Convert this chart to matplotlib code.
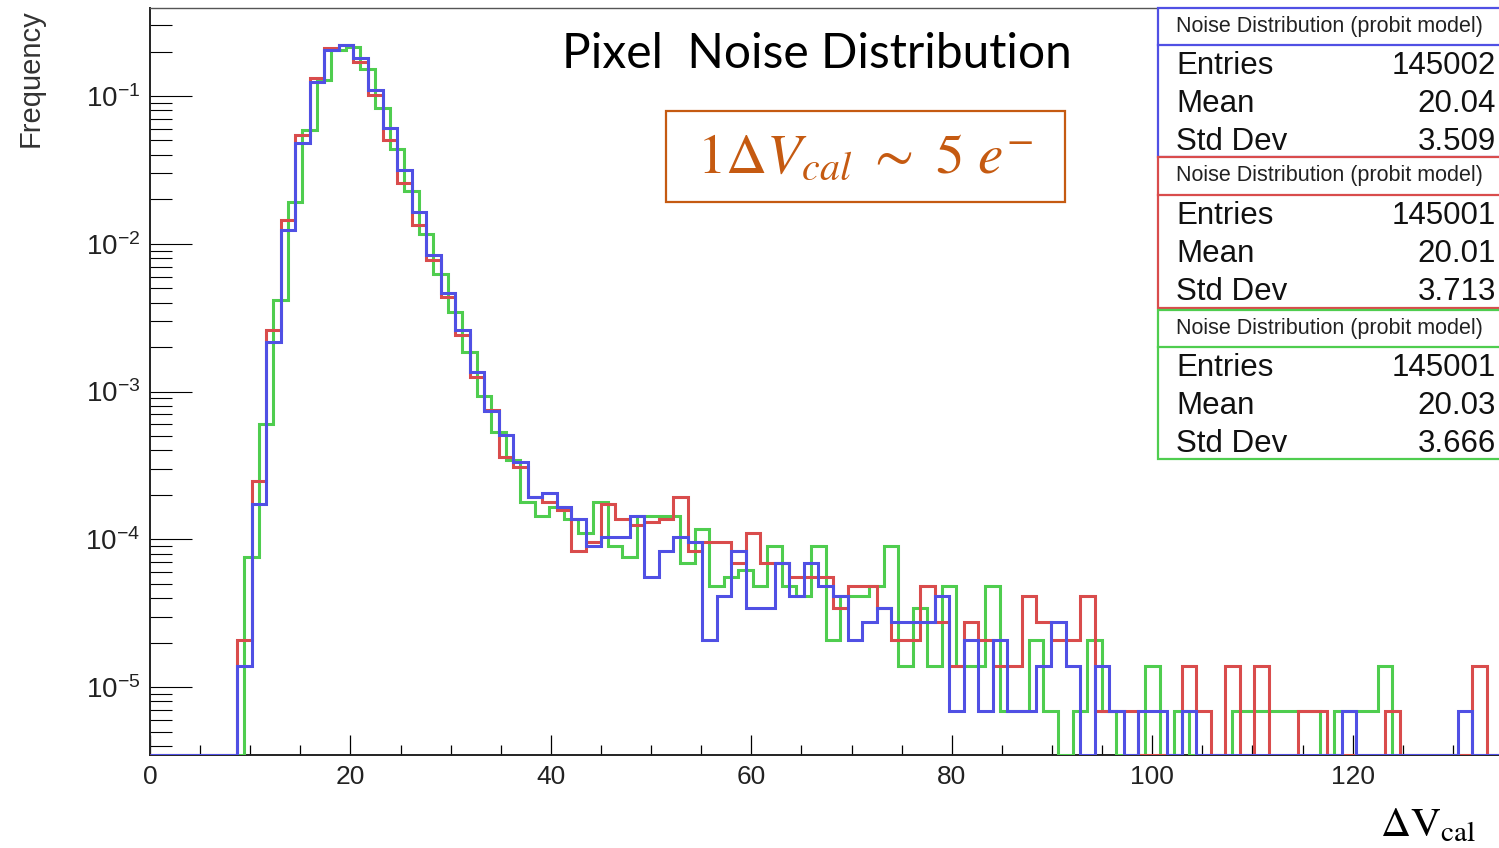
import numpy as np
import matplotlib
matplotlib.use("Agg")
import matplotlib.pyplot as plt
from matplotlib.patches import Rectangle
from matplotlib.ticker import FixedLocator, FuncFormatter, NullFormatter

plt.rcParams['font.family'] = ['Liberation Sans', 'DejaVu Sans']
plt.rcParams['mathtext.fontset'] = 'custom'
plt.rcParams['mathtext.rm'] = 'Liberation Sans'
plt.rcParams['mathtext.it'] = 'Liberation Sans:italic'

# ---------------- data (counts per bin, bin width 1.45) ----------------
entries_blue = 145002
entries_red = 145001
entries_green = 145001
mean_blue, std_blue = "20.04", "3.509"
mean_red, std_red = "20.01", "3.713"
mean_green, std_green = "20.03", "3.666"

counts_blue = [0, 0, 0, 0, 0, 0, 2, 25, 315, 1795,
               6970, 18030, 29650, 32060, 26190, 15920, 8800, 4570, 2375, 1216,
               673, 378, 196, 107, 74, 48, 28, 30, 24, 20,
               13, 15, 15, 21, 8, 12, 15, 14, 3, 6,
               12, 5, 5, 10, 6, 10, 7, 6, 3, 4,
               5, 4, 4, 4, 6, 1, 3, 1, 3, 1,
               1, 2, 4, 2, 0, 2, 1, 0, 1, 1,
               0, 1, 0, 0, 0, 0, 0, 0, 0, 0,
               0, 0, 1, 0, 0, 0, 0, 0, 0, 0,
               1, 0, 0]
counts_red = [0, 0, 0, 0, 0, 0, 3, 36, 378, 2100,
              7890, 19100, 30500, 32060, 24700, 14700, 7300, 3730, 1940, 1125,
              634, 349, 182, 109, 52, 45, 28, 26, 23, 12,
              14, 25, 20, 18, 19, 20, 28, 12, 14, 14,
              10, 16, 10, 10, 8, 8, 8, 5, 7, 7,
              5, 3, 3, 7, 4, 2, 4, 3, 2, 2,
              6, 4, 3, 3, 6, 1, 1, 1, 0, 0,
              0, 2, 1, 0, 2, 0, 2, 0, 0, 1,
              1, 0, 0, 0, 0, 1, 0, 0, 0, 0,
              0, 2, 0]
counts_green = [0, 0, 0, 0, 0, 0, 11, 88, 603, 2790,
                8530, 18600, 29500, 31000, 22000, 12000, 6300, 3300, 1700, 900,
                500, 270, 135, 77, 50, 26, 21, 24, 20, 16,
                26, 13, 11, 21, 21, 21, 10, 17, 7, 8,
                9, 7, 13, 7, 6, 13, 3, 6, 6, 7,
                13, 2, 5, 2, 7, 2, 2, 7, 1, 1,
                3, 1, 0, 1, 3, 1, 0, 0, 2, 0,
                1, 0, 0, 0, 1, 1, 1, 1, 1, 1,
                0, 1, 1, 1, 2, 0, 0, 0, 0, 0,
                0, 0, 0]
bin_width = 1.45
green_offset = 0.7

# ---------------- figure ----------------
W, H = 1499, 848
fig = plt.figure(figsize=(W / 100, H / 100), dpi=100)
ax = fig.add_axes([150 / W, 1 - 755 / H, (W - 150) / W, (755 - 8) / H])

YMIN, YMAX = 3.47e-6, 0.394
XMAX = 134.6
nb = len(counts_blue)
edges = np.linspace(0, nb * bin_width, nb + 1)

col_blue = '#5050e4'
col_red = '#d94c4c'
col_green = '#4fcd4f'


def draw(counts, entries, e, color):
    f = np.asarray(counts, dtype=float) / entries
    f = np.where(f > 0, f, YMIN)
    ax.stairs(f, e, color=color, lw=2.2, baseline=None, zorder=3)


draw(counts_green, entries_green, edges + green_offset, col_green)
draw(counts_red, entries_red, edges, col_red)
draw(counts_blue, entries_blue, edges, col_blue)

ax.set_yscale('log')
ax.set_ylim(YMIN, YMAX)
ax.set_xlim(0, XMAX)

ax.xaxis.set_major_locator(FixedLocator([0, 20, 40, 60, 80, 100, 120]))
ax.xaxis.set_minor_locator(FixedLocator(np.arange(0, 135, 5)))
ax.yaxis.set_major_locator(FixedLocator([1e-5, 1e-4, 1e-3, 1e-2, 1e-1]))
minors = [m * 10.0 ** d for d in range(-6, 0) for m in range(2, 10)]
ax.yaxis.set_minor_locator(FixedLocator(minors))
ax.yaxis.set_minor_formatter(NullFormatter())
ax.yaxis.set_major_formatter(FuncFormatter(lambda v, p: r'$10^{%d}$' % int(round(np.log10(v)))))
ax.xaxis.set_major_formatter(FuncFormatter(lambda v, p: '%d' % v))

ax.tick_params(axis='y', which='major', direction='in', length=30, width=0.8,
               labelsize=20, pad=7, left=True, right=False, labelcolor='#222222')
ax.tick_params(axis='y', which='minor', direction='in', length=16, width=0.8,
               left=True, right=False)
ax.tick_params(axis='x', which='major', direction='in', length=14.5, width=0.9,
               labelsize=19, pad=7, bottom=True, top=False, labelcolor='#222222')
ax.tick_params(axis='x', which='minor', direction='in', length=7.5, width=0.9,
               bottom=True, top=False)

for s in ['left', 'bottom']:
    ax.spines[s].set_linewidth(1.4)
    ax.spines[s].set_color('#222222')
ax.spines['top'].set_linewidth(1.0)
ax.spines['top'].set_color('#555555')
ax.spines['right'].set_visible(False)

# axis titles
fig.text(31 / W, 1 - 9 / H, 'Frequency', rotation=90, ha='center', va='top',
         fontsize=21, color='#333333')
fig.text(1428 / W, 1 - 825 / H, r'$\Delta\mathrm{V}_{\mathrm{cal}}$', ha='center', va='center',
         fontsize=30, math_fontfamily='stix', color='black')

# title
fig.text(562 / W, 1 - 54 / H, 'Pixel  Noise Distribution', ha='left', va='center',
         fontsize=34.5, family='Lato', color='black')

# orange annotation box
orange = '#c55a11'
fig.patches.append(Rectangle((666 / W, 1 - 202 / H), (1065 - 666) / W, (202 - 111) / H,
                             transform=fig.transFigure, fill=False, edgecolor=orange,
                             lw=1.6, zorder=5))
fig.text(865 / W, 1 - 158 / H, r'$1\Delta V_{cal}\ \sim\ 5\ e^{-}$', ha='center', va='center',
         fontsize=41, math_fontfamily='stix', color=orange)

# stats boxes
boxes = [
    (col_blue, 8, 45, 157, entries_blue, mean_blue, std_blue),
    (col_red, 157, 195, 308, entries_red, mean_red, std_red),
    (col_green, 310, 347, 459, entries_green, mean_green, std_green),
]
x0, x1 = 1158, 1502
for color, top, sep, bot, ent, mean, std in boxes:
    fig.patches.append(Rectangle((x0 / W, 1 - bot / H), (x1 - x0) / W, (bot - top) / H,
                                 transform=fig.transFigure, facecolor='white',
                                 edgecolor=color, lw=1.6, zorder=6))
    fig.lines.append(plt.Line2D([x0 / W, x1 / W], [1 - sep / H, 1 - sep / H],
                                transform=fig.transFigure, color=color, lw=1.6, zorder=7))
    fig.text(1176 / W, 1 - (top + sep) / 2 / H, 'Noise Distribution (probit model)',
             ha='left', va='center', fontsize=15.5, color='#222222', zorder=8)
    rows = [('Entries', '%d' % ent), ('Mean', mean), ('Std Dev', std)]
    for i, (lab, val) in enumerate(rows):
        yc = sep + 21 + 38 * i
        fig.text(1176 / W, 1 - yc / H, lab, ha='left', va='center', fontsize=22.5,
                 color='#111111', zorder=8)
        fig.text(1496 / W, 1 - yc / H, val, ha='right', va='center', fontsize=22.5,
                 color='#111111', zorder=8)

fig.savefig('out.png', dpi=100)
